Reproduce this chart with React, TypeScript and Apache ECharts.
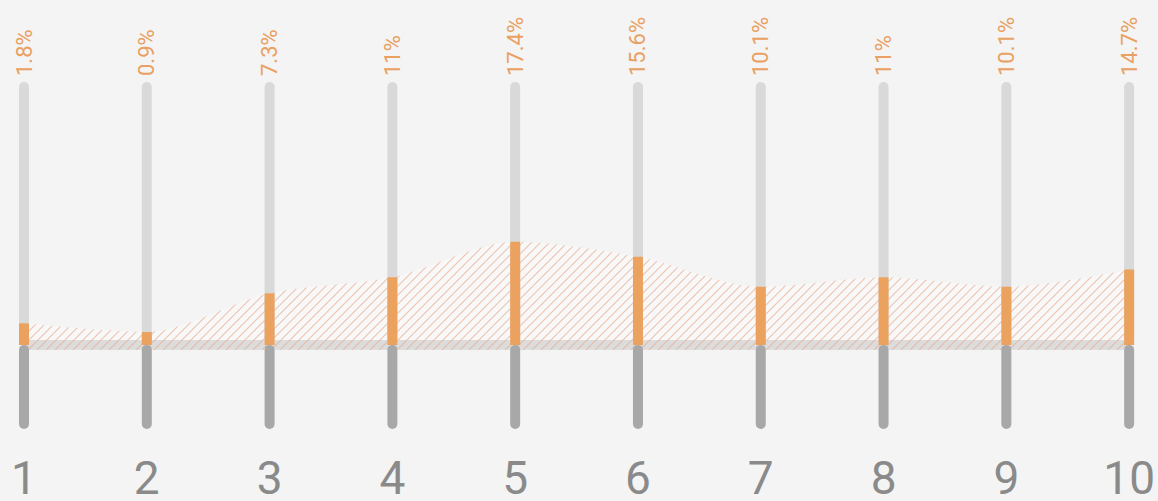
import React, { useEffect, useRef } from "react";
import * as echarts from "echarts";

const categories = ["1", "2", "3", "4", "5", "6", "7", "8", "9", "10"];
const shareLabels = [1.8, 0.9, 7.3, 11, 17.4, 15.6, 10.1, 11, 10.1, 14.7];
const barHeights = [8.2, 4.9, 19.6, 25.7, 39.2, 33.5, 22.1, 25.7, 22.1, 28.7];
const trackTop = 100;
const trackBottom = -32;
const bandHalf = 1.9;

function makeHatch(): HTMLCanvasElement {
  const s = 9;
  const c = document.createElement("canvas");
  c.width = s;
  c.height = s;
  const ctx = c.getContext("2d")!;
  ctx.fillStyle = "rgba(255,255,255,0.35)";
  ctx.fillRect(0, 0, s, s);
  ctx.strokeStyle = "rgba(232,168,140,0.65)";
  ctx.lineWidth = 1.1;
  ctx.beginPath();
  ctx.moveTo(-1, s + 1);
  ctx.lineTo(s + 1, -1);
  ctx.moveTo(-2, 2);
  ctx.lineTo(2, -2);
  ctx.moveTo(s - 2, s + 2);
  ctx.lineTo(s + 2, s - 2);
  ctx.stroke();
  return c;
}

export default function App() {
  const ref = useRef<HTMLDivElement>(null);
  useEffect(() => {
    if (!ref.current) return;
    const chart = echarts.init(ref.current, undefined, { renderer: "svg" });
    const font = "Roboto, 'DejaVu Sans Condensed', sans-serif";
    chart.setOption({
      animation: false,
      backgroundColor: "#f4f4f4",
      grid: { left: 24, right: 25, top: 82, bottom: 71, containLabel: false },
      xAxis: {
        type: "category",
        data: categories,
        boundaryGap: false,
        axisLine: { show: false },
        axisTick: { show: false },
        splitLine: { show: false },
        axisLabel: {
          color: "#8a8a8a",
          fontSize: 46,
          lineHeight: 36,
          fontFamily: font,
          margin: 31,
        },
      },
      yAxis: {
        type: "value",
        min: trackBottom,
        max: trackTop,
        show: false,
        splitLine: { show: false },
      },
      series: [
        {
          type: "bar",
          z: 1,
          data: categories.map(() => trackTop),
          barWidth: 10,
          barGap: "-100%",
          itemStyle: { color: "#d9d9d9", borderRadius: 5 },
          label: {
            show: true,
            position: "top",
            distance: 6,
            rotate: 90,
            align: "left",
            verticalAlign: "middle",
            color: "#e9a062",
            fontSize: 22,
            fontFamily: font,
            formatter: (p: any) => shareLabels[p.dataIndex] + "%",
          },
          silent: true,
        },
        {
          type: "line",
          z: 1,
          data: barHeights,
          smooth: 0.3,
          showSymbol: false,
          lineStyle: { width: 0, opacity: 0 },
          areaStyle: {
            color: { image: makeHatch(), repeat: "repeat" } as any,
            origin: -bandHalf,
            opacity: 1,
          },
          silent: true,
        },
        {
          type: "bar",
          z: 3,
          data: barHeights,
          barWidth: 10,
          barGap: "-100%",
          itemStyle: { color: "#eba25e", borderRadius: [1, 1, 0, 0] },
          silent: true,
        },
        {
          type: "bar",
          z: 3,
          data: categories.map(() => trackBottom),
          barWidth: 10,
          barGap: "-100%",
          itemStyle: { color: "#a8a8a8", borderRadius: 5 },
          silent: true,
        },
        {
          type: "line",
          data: [],
          z: 10,
          markArea: {
            silent: true,
            itemStyle: { color: "rgba(105,105,105,0.3)" },
            data: [[{ xAxis: 0, yAxis: -bandHalf }, { xAxis: categories.length - 1, yAxis: bandHalf }]],
          },
        },
      ],
    });
    return () => chart.dispose();
  }, []);
  return (
    <div
      ref={ref}
      style={{ position: "fixed", left: 0, top: 0, width: 1158, height: 501 }}
    />
  );
}
